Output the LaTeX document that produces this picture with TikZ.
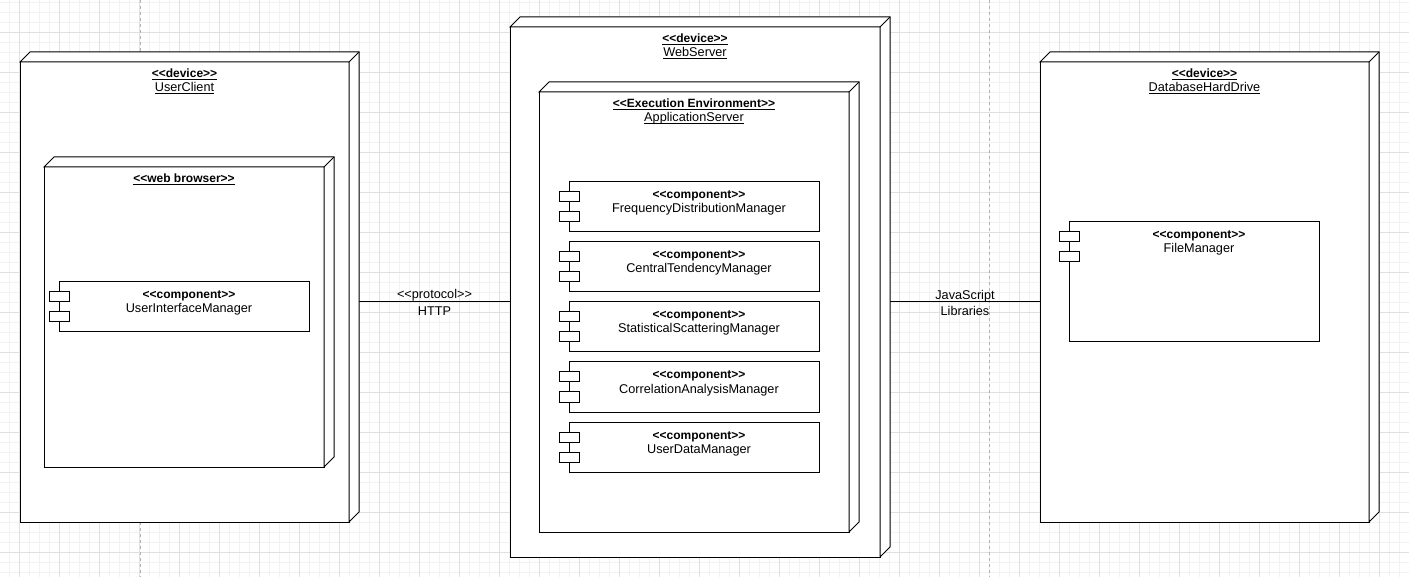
\documentclass[tikz,border=0pt]{standalone}
\usepackage{fontspec}
\setmainfont{Liberation Sans}
\usetikzlibrary{calc}

% stereotype brackets, kept apart so they do not turn into guillemets
\newcommand\stereo[1]{<\kern0pt<#1>\kern0pt>}

% top and side faces of a node drawn as a UML 3D box
\newcommand\boxdepth[1]{%
  \draw[edge, fill=white] (#1.north west) -- ++(10,-10)
    -- ([shift={(10,-10)}]#1.north east) -- ([shift={(10,-10)}]#1.south east)
    -- (#1.south east) -- (#1.north east) -- cycle;
  \draw[edge] (#1.north east) -- ++(10,-10);
}

% the two small tabs on the left edge of a component
\newcommand\comptabs[1]{%
  \draw[edge, fill=white] ([shift={(-10,10)}]#1.north west) rectangle ++(20,10);
  \draw[edge, fill=white] ([shift={(-10,30)}]#1.north west) rectangle ++(20,10);
}

% underline under a text node, just below its baseline
\newcommand\underlinenode[1]{%
  \draw[uline] ([yshift=-1.6pt]#1.base west) -- ([yshift=-1.6pt]#1.base east);
}

\begin{document}
\begin{tikzpicture}[x=1pt, y=-1pt,
  every node/.style={inner sep=0pt, outer sep=0pt},
  txt/.style={font=\fontsize{12.7}{14}\selectfont, anchor=base},
  btxt/.style={font=\fontsize{12}{14}\selectfont\bfseries, anchor=base},
  edge/.style={draw=black, line width=1pt},
  uline/.style={draw=black, line width=0.9pt},
  face/.style={edge, fill=white, rectangle, anchor=north west},
  comp/.style={face, minimum width=250pt, minimum height=50pt},
  minorgrid/.style={draw=black!5, line width=0.8pt},
  majorgrid/.style={draw=black!12, line width=0.8pt},
  pagebreak/.style={draw=black!30, line width=0.8pt, dash pattern=on 3pt off 3pt},
]
\useasboundingbox (0,0) rectangle (1409,577);
\fill[white] (0,0) rectangle (1409,577);

% background grid
\foreach \x in {9,19,...,1409} \draw[minorgrid] (\x,0) -- (\x,577);
\foreach \y in {2,12,...,577} \draw[minorgrid] (0,\y) -- (1409,\y);
\foreach \x in {19,59,...,1409} \draw[majorgrid] (\x,0) -- (\x,577);
\foreach \y in {32,72,...,577} \draw[majorgrid] (0,\y) -- (1409,\y);

% page boundaries
\draw[pagebreak] (140,0) -- (140,577);
\draw[pagebreak] (989,0) -- (989,577);

% device front faces
\node[face, minimum width=329pt, minimum height=460pt] (uc) at (20,62) {};
\node[face, minimum width=370pt, minimum height=530pt] (ws) at (510,27) {};
\node[face, minimum width=329pt, minimum height=460pt] (db) at (1040,62) {};

% communication paths
\draw[edge] ([shift={(10,10)}]uc.east) -- ([shift={(0,10)}]ws.west)
  node[txt, midway, yshift=3pt] (proto) {\stereo{protocol}}
  node[txt, midway, yshift=-13.5pt] (http) {HTTP};
\draw[edge] ([shift={(10,10)}]ws.east) -- ([shift={(0,10)}]db.west)
  node[txt, midway, yshift=2pt] (js) {JavaScript}
  node[txt, midway, yshift=-13.5pt] (libs) {Libraries};

% UserClient
\node[face, minimum width=329pt, minimum height=460pt] at (20,62) {};
\boxdepth{uc}
\node[btxt] (uc-s) at ([shift={(0,16)}]uc.north) {\stereo{device}};
\node[txt] (uc-t) at ([shift={(0,30)}]uc.north) {UserClient};
\underlinenode{uc-s}
\underlinenode{uc-t}

\node[face, minimum width=280pt, minimum height=300pt] (wb) at (44,167) {};
\boxdepth{wb}
\node[btxt] (wb-s) at ([shift={(0,16)}]wb.north) {\stereo{web browser}};
\underlinenode{wb-s}

\node[comp] (uim) at (59,282) {};
\comptabs{uim}
\node[btxt] (uim-s) at ([shift={(5,17)}]uim.north) {\stereo{component}};
\node[txt] (uim-t) at ([shift={(5,31)}]uim.north) {UserInterfaceManager};

% WebServer
\node[face, minimum width=370pt, minimum height=530pt] at (510,27) {};
\boxdepth{ws}
\node[btxt] (ws-s) at ([shift={(0,16)}]ws.north) {\stereo{device}};
\node[txt] (ws-t) at ([shift={(0,30)}]ws.north) {WebServer};
\underlinenode{ws-s}
\underlinenode{ws-t}

\node[face, minimum width=310pt, minimum height=440pt] (as) at (539,92) {};
\boxdepth{as}
\node[btxt] (as-s) at ([shift={(0,16)}]as.north) {\stereo{Execution Environment}};
\node[txt] (as-t) at ([shift={(0,30)}]as.north) {ApplicationServer};
\underlinenode{as-s}
\underlinenode{as-t}

\foreach \n/\y/\t in {fdm/182/FrequencyDistributionManager,
                      ctm/242/CentralTendencyManager,
                      ssm/302/StatisticalScatteringManager,
                      cam/362/CorrelationAnalysisManager,
                      udm/422/UserDataManager} {
  \node[comp] (\n) at (569,\y) {};
  \comptabs{\n}
  \node[btxt] (\n-s) at ([shift={(5,17)}]\n.north) {\stereo{component}};
  \node[txt] (\n-t) at ([shift={(5,31)}]\n.north) {\t};
}

% DatabaseHardDrive
\node[face, minimum width=329pt, minimum height=460pt] at (1040,62) {};
\boxdepth{db}
\node[btxt] (db-s) at ([shift={(0,16)}]db.north) {\stereo{device}};
\node[txt] (db-t) at ([shift={(0,30)}]db.north) {DatabaseHardDrive};
\underlinenode{db-s}
\underlinenode{db-t}

\node[comp, minimum height=120pt] (fm) at (1069,222) {};
\comptabs{fm}
\node[btxt] (fm-s) at ([shift={(5,17)}]fm.north) {\stereo{component}};
\node[txt] (fm-t) at ([shift={(5,31)}]fm.north) {FileManager};
\end{tikzpicture}
\end{document}
